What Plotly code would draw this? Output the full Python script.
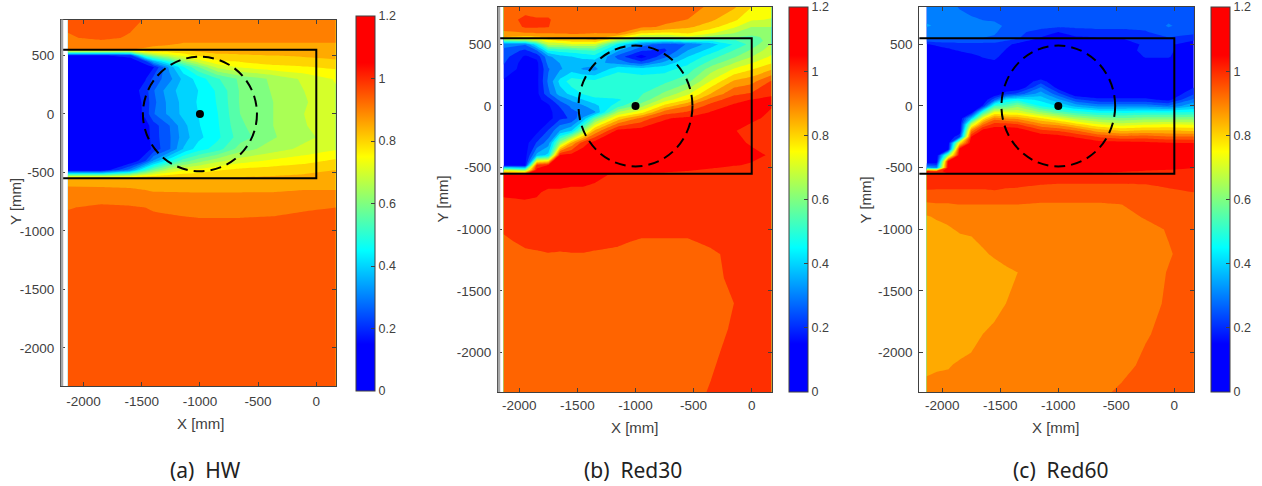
import plotly.graph_objects as go

W, H = 1262, 486
# ---------- data ----------
a_x = [-2135,-1850,-1600,-1470,-1400,-1260,-1140,-1015,-845,-655,-370,-105,170]
a_y = [810,650,600,550,500,450,400,300,200,100,0,-100,-200,-300,-400,-480,-550,-650,-800,-1000,-2330]
a_z = [
[.95,.95,.95,.92,.90,.90,.90,.90,.90,.90,.90,.90,.90],
[.915,.945,.915,.90,.90,.90,.90,.90,.90,.90,.90,.90,.90],
[.885,.885,.885,.885,.885,.885,.87,.87,.87,.87,.87,.87,.87],
[.875,.875,.875,.87,.86,.83,.84,.85,.85,.85,.85,.85,.85],
[.17,.17,.20,.55,.62,.70,.74,.78,.815,.82,.825,.83,.835],
[.12,.12,.13,.21,.36,.50,.62,.70,.765,.78,.80,.81,.82],
[.10,.10,.11,.14,.17,.34,.47,.57,.69,.73,.76,.77,.785],
[.10,.10,.11,.17,.24,.31,.39,.445,.52,.585,.635,.685,.73],
[.10,.10,.14,.20,.27,.36,.395,.425,.485,.58,.63,.675,.72],
[.10,.10,.13,.19,.26,.345,.39,.43,.48,.58,.625,.67,.71],
[.10,.10,.12,.19,.27,.34,.39,.425,.475,.575,.625,.675,.72],
[.10,.10,.12,.15,.20,.275,.36,.42,.47,.565,.625,.67,.72],
[.10,.10,.11,.14,.20,.27,.35,.41,.465,.55,.62,.66,.70],
[.10,.10,.11,.14,.19,.27,.38,.45,.50,.60,.65,.69,.72],
[.10,.10,.12,.22,.33,.46,.55,.60,.66,.70,.735,.755,.785],
[.12,.12,.30,.50,.58,.68,.72,.74,.77,.79,.80,.81,.825],
[.85,.86,.85,.85,.85,.84,.84,.84,.83,.83,.835,.84,.845],
[.885,.88,.88,.875,.87,.87,.87,.87,.87,.87,.87,.875,.875],
[.922,.935,.93,.925,.92,.915,.91,.905,.905,.905,.91,.92,.925],
[.95,.95,.95,.95,.95,.95,.95,.95,.95,.95,.95,.95,.95],
[.95,.95,.95,.95,.95,.95,.95,.95,.95,.95,.95,.95,.95],
]

b_x = [-2135,-1950,-1850,-1750,-1650,-1550,-1450,-1350,-1150,-950,-750,-550,-350,-150,0,170]
b_y = [810,700,640,590,560,530,500,450,400,350,300,200,100,50,0,-50,-100,-200,-300,-400,-480,-520,-560,-700,-800,-1000,-1100,-1200,-1400,-1600,-1800,-2000,-2330]
b_z = [
[.93,.93,.93,.93,.93,.93,.93,.92,.93,.92,.92,.93,.89,.85,.78,.745],
[.93,.98,.97,.97,.94,.93,.93,.92,.925,.93,.91,.90,.85,.79,.72,.71],
[.92,.97,.97,.965,.94,.93,.93,.92,.92,.91,.895,.85,.80,.72,.65,.65],
[.89,.895,.90,.90,.905,.91,.905,.90,.905,.78,.76,.78,.72,.65,.60,.615],
[.84,.82,.83,.85,.86,.87,.875,.88,.80,.65,.65,.70,.62,.59,.58,.60],
[.55,.60,.68,.75,.78,.80,.81,.83,.62,.47,.45,.50,.47,.52,.56,.61],
[.30,.28,.45,.68,.68,.71,.70,.70,.45,.31,.24,.28,.37,.47,.55,.655],
[.26,.20,.27,.47,.49,.50,.52,.53,.35,.22,.20,.34,.43,.53,.60,.69],
[.24,.14,.17,.32,.38,.40,.42,.44,.25,.12,.26,.40,.50,.58,.65,.725],
[.22,.12,.13,.30,.34,.39,.37,.36,.31,.24,.36,.45,.55,.65,.71,.77],
[.20,.12,.13,.27,.33,.37,.33,.32,.45,.43,.44,.49,.62,.72,.77,.83],
[.14,.12,.13,.29,.42,.50,.49,.48,.50,.50,.51,.57,.72,.85,.88,.97],
[.12,.12,.13,.26,.37,.42,.47,.50,.525,.52,.60,.70,.84,.95,.97,1.02],
[.12,.12,.13,.18,.29,.35,.40,.44,.45,.54,.68,.78,.93,1.00,1.03,1.035],
[.12,.12,.13,.14,.22,.29,.33,.38,.50,.63,.80,.90,.99,1.04,1.04,1.03],
[.12,.12,.13,.13,.19,.26,.29,.33,.65,.75,.93,.97,1.03,1.06,1.05,1.02],
[.12,.12,.13,.12,.20,.22,.35,.55,.80,.92,1.02,1.04,1.05,1.05,1.04,1.01],
[.12,.12,.13,.22,.34,.40,.62,.85,1.05,1.06,1.06,1.06,1.06,1.03,1.00,1.00],
[.12,.12,.22,.31,.62,.85,1.00,1.06,1.07,1.07,1.07,1.07,1.07,1.04,1.02,1.00],
[.12,.12,.36,.42,1.04,1.05,1.07,1.07,1.07,1.07,1.07,1.07,1.06,1.05,1.04,1.02],
[.13,.13,.98,1.03,1.06,1.06,1.07,1.07,1.07,1.07,1.07,1.06,1.04,1.03,1.02,1.00],
[.70,.60,1.05,1.05,1.06,1.06,1.06,1.06,1.06,1.05,1.04,1.03,1.02,1.00,1.00,1.00],
[1.05,1.05,1.05,1.05,1.05,1.05,1.05,1.04,1.015,1.01,1.01,1.01,1.01,1.00,1.00,1.00],
[1.03,1.035,1.03,1.02,1.02,1.015,1.015,1.01,1.00,1.00,1.00,1.00,1.00,1.00,1.00,1.00],
[1.02,1.02,1.02,1.01,1.01,1.01,1.01,1.01,1.00,1.00,1.00,1.00,1.00,1.00,1.00,1.00],
[.98,1.00,1.00,1.00,1.00,1.00,1.00,1.00,1.00,1.00,1.00,1.00,1.00,1.00,1.00,1.00],
[.94,.99,.995,1.00,1.00,1.00,1.00,1.00,.98,.95,.95,.95,.99,1.00,1.00,1.00],
[.93,.94,.95,.96,.955,.96,.96,.95,.94,.93,.93,.93,.94,1.00,1.00,1.00],
[.93,.93,.93,.93,.93,.93,.93,.93,.93,.93,.93,.93,.93,.99,1.00,1.00],
[.93,.93,.93,.93,.93,.93,.93,.93,.93,.93,.93,.93,.93,.964,1.00,1.00],
[.93,.93,.93,.93,.93,.93,.93,.93,.93,.93,.93,.93,.93,.975,1.00,1.00],
[.93,.93,.93,.93,.93,.93,.93,.93,.93,.93,.93,.93,.95,.985,1.00,1.00],
[.93,.93,.93,.93,.93,.93,.93,.93,.93,.93,.93,.94,.97,1.00,1.00,1.00],
]

c_x = [-2135,-2050,-1950,-1850,-1750,-1650,-1550,-1450,-1350,-1150,-1000,-850,-650,-450,-250,-50,170]
c_y = [810,650,600,550,500,450,400,300,250,200,150,100,50,0,-50,-100,-150,-200,-250,-300,-350,-400,-450,-500,-530,-560,-650,-700,-800,-900,-1000,-1200,-1350,-1600,-1850,-2100,-2330]
c_z = [
[.29,.29,.29,.27,.26,.25,.24,.24,.24,.24,.24,.24,.24,.24,.24,.24,.24],
[.33,.32,.31,.30,.29,.285,.285,.27,.25,.25,.24,.24,.24,.24,.24,.28,.25],
[.30,.30,.30,.295,.29,.285,.28,.26,.24,.20,.175,.20,.21,.21,.22,.26,.24],
[.29,.29,.285,.28,.28,.275,.27,.25,.23,.17,.165,.165,.17,.175,.20,.22,.20],
[.17,.19,.20,.21,.21,.21,.21,.19,.16,.13,.13,.13,.13,.13,.19,.19,.13],
[.12,.13,.16,.18,.20,.21,.21,.17,.13,.12,.12,.12,.12,.13,.20,.19,.12],
[.12,.12,.12,.13,.15,.18,.195,.14,.12,.12,.12,.12,.12,.12,.18,.18,.12],
[.12,.12,.12,.12,.12,.12,.12,.12,.12,.12,.12,.12,.12,.12,.12,.12,.12],
[.12,.12,.12,.12,.12,.12,.12,.12,.12,.12,.12,.12,.12,.12,.12,.12,.12],
[.12,.12,.12,.12,.12,.12,.12,.12,.12,.20,.12,.12,.12,.12,.12,.12,.13],
[.12,.12,.12,.12,.12,.12,.12,.12,.12,.28,.15,.12,.12,.12,.12,.12,.175],
[.12,.12,.12,.12,.12,.12,.12,.20,.24,.35,.24,.13,.13,.13,.13,.12,.22],
[.12,.12,.12,.12,.12,.12,.26,.43,.46,.41,.34,.24,.19,.19,.19,.16,.29],
[.12,.12,.12,.12,.12,.18,.52,.55,.61,.47,.42,.36,.31,.31,.31,.28,.37],
[.12,.12,.12,.12,.13,.50,.72,.72,.71,.62,.55,.50,.46,.46,.47,.47,.48],
[.12,.12,.12,.12,.38,.75,.90,.87,.86,.78,.72,.65,.60,.58,.60,.60,.60],
[.12,.12,.12,.12,.68,.92,1.00,1.00,.98,.89,.86,.80,.73,.70,.72,.73,.72],
[.12,.12,.12,.12,.90,1.05,1.06,1.06,1.06,.99,.97,.93,.85,.82,.83,.83,.82],
[.12,.12,.12,.22,1.03,1.07,1.07,1.07,1.07,1.06,1.05,1.02,.97,.94,.95,.93,.93],
[.12,.12,.12,.77,1.07,1.07,1.07,1.07,1.07,1.07,1.07,1.06,1.05,1.05,1.04,1.03,1.025],
[.12,.12,.13,1.05,1.07,1.07,1.07,1.07,1.07,1.07,1.07,1.07,1.07,1.07,1.07,1.07,1.05],
[.12,.12,.60,1.07,1.07,1.07,1.07,1.07,1.07,1.07,1.07,1.07,1.07,1.07,1.07,1.07,1.06],
[.12,.12,1.04,1.07,1.07,1.07,1.07,1.07,1.07,1.07,1.07,1.07,1.07,1.07,1.07,1.07,1.05],
[.35,.30,1.06,1.07,1.07,1.07,1.07,1.07,1.07,1.07,1.07,1.07,1.07,1.07,1.05,1.04,1.03],
[1.04,1.00,1.05,1.05,1.05,1.05,1.05,1.05,1.05,1.05,1.05,1.05,1.04,1.03,1.02,1.015,1.00],
[1.01,1.01,1.01,1.01,1.01,1.01,1.01,1.01,1.01,1.01,1.00,1.00,1.00,1.00,1.00,1.00,1.00],
[.99,.985,.985,.98,.98,.98,.985,.98,.98,.97,.968,.968,.968,.968,.97,.98,.985],
[.965,.965,.965,.97,.97,.97,.97,.965,.96,.955,.955,.955,.955,.955,.96,.965,.975],
[.915,.92,.92,.925,.925,.925,.925,.925,.925,.92,.92,.92,.92,.925,.945,.955,.955],
[.87,.88,.885,.89,.895,.90,.90,.90,.90,.90,.90,.90,.90,.905,.93,.95,.95],
[.85,.86,.87,.88,.885,.89,.895,.90,.90,.90,.90,.90,.90,.90,.905,.93,.95],
[.85,.85,.85,.85,.85,.87,.88,.885,.885,.90,.90,.90,.90,.90,.90,.92,.95],
[.85,.85,.85,.85,.85,.855,.86,.87,.875,.89,.90,.90,.90,.90,.90,.928,.95],
[.85,.85,.85,.85,.85,.855,.86,.875,.89,.90,.90,.90,.90,.90,.90,.935,.95],
[.85,.85,.85,.85,.86,.875,.885,.89,.895,.90,.90,.90,.90,.90,.92,.94,.95],
[.865,.87,.872,.88,.885,.89,.895,.90,.90,.90,.90,.90,.90,.91,.935,.95,.95],
[.89,.89,.89,.895,.90,.90,.90,.90,.90,.90,.90,.90,.915,.935,.95,.95,.95],
]

bar_values = [[0, 1.2]]
x_ticks = [-2000, -1500, -1000, -500, 0]
x_labels = ["-2000", "-1500", "-1000", "-500", "0"]
y_ticks = [500, 0, -500, -1000, -1500, -2000]
y_labels = ["500", "0", "-500", "-1000", "-1500", "-2000"]
bar_ticks = [0, 0.2, 0.4, 0.6, 0.8, 1, 1.2]
bar_labels = ["0", "0.2", "0.4", "0.6", "0.8", "1", "1.2"]
box_x = [-2200, 0, 0, -2200]
box_y = [550, 550, -550, -550]
hub_x = [-1000]
hub_y = [0]
disc_radius = 490
captions = ["(a)  HW", "(b)  Red30", "(c)  Red60"]

# value -> colour stops of the map
JET = [(0.15, "#0000ff"), (0.45, "#00ffff"), (0.75, "#ffff00"), (1.05, "#ff0000")]
BAR_SCALE = [[0, "#0000ff"], [0.125, "#0000ff"], [0.375, "#00ffff"], [0.625, "#ffff00"], [0.875, "#ff0000"], [1, "#ff0000"]]

def fill_scale(start, size, end):
    n = int(round((end - start) / size)) + 1
    lo = start - size / 2
    hi = start + (n - 0.5) * size
    out = [[0, "#0000ff"]]
    for v, c in JET:
        f = (v - lo) / (hi - lo)
        if 0 < f < 1:
            out.append([f, c])
    out.append([1, "#ff0000"])
    return out

panels = [
    dict(x=a_x, y=a_y, z=a_z, px=(61, 335.5), py=(19.5, 386), xr=(-2194, 165), yr=(-2327, 808),
         bar=(356.3, 16.5, 391), lev=(0.175, 0.05, 1.025), cap=205.5, grey=True,
         xt=(201, 423), yt=(15, 202), sx=3),
    dict(x=b_x, y=b_y, z=b_z, px=(498, 772.3), py=(7, 392), xr=(-2183, 177), yr=(-2320, 803),
         bar=(789.3, 7, 392), lev=(0.151, 0.0625, 1.026), cap=632.5, grey=True,
         xt=(635, 427), yt=(442, 199.5), sx=1),
    dict(x=c_x, y=c_y, z=c_z, px=(919.3, 1193.7), py=(7, 392), xr=(-2198, 167), yr=(-2320, 803),
         bar=(1210.7, 7, 392), lev=(0.175, 0.05, 1.025), cap=1060, grey=False,
         xt=(1056, 427), yt=(865, 199.5), sx=1),
]

AX = "#404040"
FAM = "Liberation Sans, Arial, sans-serif"
TF = dict(family=FAM, size=13.5, color=AX)
fig = go.Figure()
shapes, annotations = [], []
for i, p in enumerate(panels):
    n = "" if i == 0 else str(i + 1)
    xa, ya = "x" + n, "y" + n
    s, d, e = p["lev"]
    fig.add_trace(go.Contour(
        x=p["x"], y=p["y"][::-1], z=p["z"][::-1], xaxis=xa, yaxis=ya,
        autocontour=False, contours=dict(start=s, end=e, size=d, coloring="fill", showlines=False),
        line=dict(width=0, smoothing=0), colorscale=fill_scale(s, d, e), showscale=False, hoverinfo="skip"))
    bx, bt, bb = p["bar"]
    fig.add_trace(go.Heatmap(
        x=[1e5, 1e5 + 1], y=[1e5], z=bar_values, xaxis=xa, yaxis=ya, zmin=0, zmax=1.2,
        colorscale=BAR_SCALE, showscale=True, hoverinfo="skip",
        colorbar=dict(x=bx / W, xanchor="left", xpad=0, ypad=0, y=1 - bb / H, yanchor="bottom",
                      len=(bb - bt) / H, lenmode="fraction", thickness=19.3, thicknessmode="pixels",
                      tickmode="array", tickvals=bar_ticks, ticktext=bar_labels, ticks="inside",
                      ticklen=4, tickcolor=AX, outlinecolor=AX, outlinewidth=1,
                      tickfont=dict(family=FAM, size=12.5, color=AX))))
    fig.add_trace(go.Scatter(x=box_x, y=box_y, xaxis=xa, yaxis=ya, mode="lines", showlegend=False,
                             line=dict(color="black", width=2), hoverinfo="skip"))
    fig.add_trace(go.Scatter(x=hub_x, y=hub_y, xaxis=xa, yaxis=ya, mode="markers", showlegend=False,
                             marker=dict(color="black", size=8), hoverinfo="skip"))
    shapes.append(dict(type="circle", xref=xa, yref=ya, x0=hub_x[0] - disc_radius, x1=hub_x[0] + disc_radius,
                       y0=hub_y[0] - disc_radius, y1=hub_y[0] + disc_radius,
                       line=dict(color="black", width=2, dash="11px,6px")))
    if p["grey"]:
        shapes.append(dict(type="line", xref="paper", yref="paper",
                           x0=(p["px"][0] + 1) / W, x1=(p["px"][0] + 1) / W,
                           y0=1 - p["py"][1] / H, y1=1 - p["py"][0] / H,
                           line=dict(color="#a6a6a6", width=2.5)))
    common = dict(showgrid=False, zeroline=False, showline=True, linecolor=AX, linewidth=1, mirror="ticks",
                  ticks="inside", ticklen=4, tickcolor=AX, tickfont=TF, tickmode="array")
    fig.update_layout({
        "xaxis" + n: dict(common, domain=[p["px"][0] / W, p["px"][1] / W], range=list(p["xr"]), anchor=ya,
                          tickvals=x_ticks, ticktext=x_labels, ticklabelstandoff=p["sx"]),
        "yaxis" + n: dict(common, domain=[1 - p["py"][1] / H, 1 - p["py"][0] / H], range=list(p["yr"]), anchor=xa,
                          tickvals=y_ticks, ticktext=y_labels, ticklabelstandoff=3),
    })
    annotations.append(dict(text="X [mm]", x=p["xt"][0] / W, y=1 - p["xt"][1] / H, xref="paper", yref="paper",
                            xanchor="center", yanchor="middle", showarrow=False,
                            font=dict(family=FAM, size=15, color=AX)))
    annotations.append(dict(text="Y [mm]", x=p["yt"][0] / W, y=1 - p["yt"][1] / H, xref="paper", yref="paper",
                            xanchor="center", yanchor="middle", showarrow=False, textangle=-90,
                            font=dict(family=FAM, size=15, color=AX)))
    annotations.append(dict(text=captions[i], x=p["cap"] / W, y=1 - 470 / H, xref="paper", yref="paper",
                            xanchor="center", yanchor="middle", showarrow=False,
                            font=dict(family="Noto Sans", size=21, color="#222222")))

fig.update_layout(width=W, height=H, margin=dict(l=0, r=0, t=0, b=0), paper_bgcolor="white",
                  plot_bgcolor="white", showlegend=False, shapes=shapes, annotations=annotations)
fig.write_html("out.html", config=dict(displayModeBar=False),
               post_script="document.body.style.margin='0';document.body.style.overflow='hidden';")
